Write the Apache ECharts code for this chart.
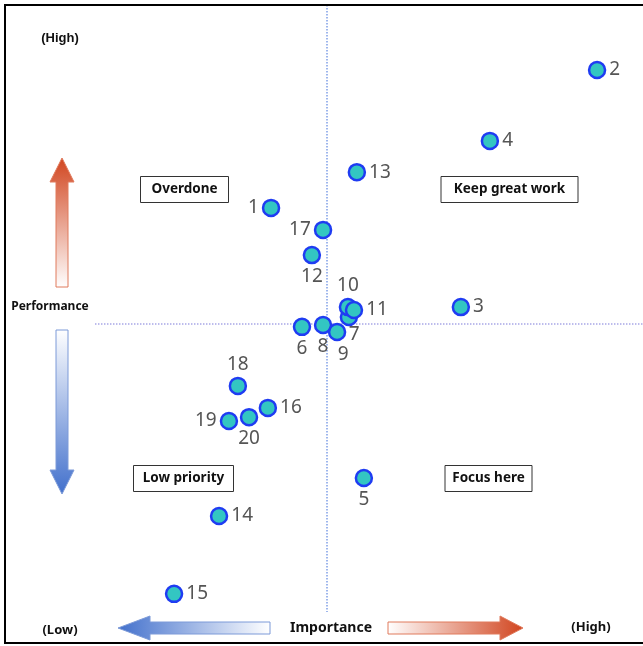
<!DOCTYPE html>
<html>
<head>
<meta charset="utf-8">
<script src="https://cdn.jsdelivr.net/npm/echarts@6/dist/echarts.min.js"></script>
<style>
html,body{margin:0;padding:0;background:#fff;}
#chart{width:643px;height:646px;}
</style>
</head>
<body>
<div id="chart"></div>
<script>
// Item numbers
var items = ['1','2','3','4','5','6','7','8','9','10','11','12','13','14','15','16','17','18','19','20'];
// Importance (x) values
var importance = [3.834,4.856,4.429,4.520,4.125,3.931,4.078,3.997,4.041,4.075,4.094,3.962,4.103,3.671,3.530,3.824,3.997,3.730,3.702,3.765];
// Performance (y) values
var performance = [4.364,4.796,4.053,4.574,3.517,3.991,4.022,3.997,3.975,4.053,4.044,4.216,4.476,3.398,3.154,3.737,4.295,3.806,3.696,3.708];
// Label placement per item
var labelPos = ['left','right','right','right','bottom','bottom','bottomRight','bottom','bottomShift','top','right','bottom','right','right','right','right','left','top','left','bottom'];
// Mean lines (quadrant dividers)
var meanImportance = 4.01;
var meanPerformance = 4.0;

var chart = echarts.init(document.getElementById('chart'));

var data = items.map(function(name, i){
  var pos = labelPos[i];
  var lbl = {position: pos, distance: 3};
  if (pos === 'bottomRight') {
    lbl = {position: [9, 17]};
  } else if (pos === 'bottomShift') {
    lbl = {position: 'bottom', distance: 4, offset: [6, 0]};
  }
  return {name: name, value: [importance[i], performance[i]], label: lbl};
});

function arrowGrad(x0,y0,x1,y1,c0,c1){
  return new echarts.graphic.LinearGradient(x0,y0,x1,y1,[{offset:0,color:c0},{offset:1,color:c1}]);
}
var RED = '#d1451f', BLUE = '#4270cc';

function box(cx, cy, w, h, text){
  return {
    type:'group', left: cx - w/2, top: cy - h/2, z: 50,
    children:[
      {type:'rect', shape:{x:0,y:0,width:w,height:h}, style:{fill:'#fff', stroke:'#333', lineWidth:1}},
      {type:'text', x:w/2, y:h/2, style:{text:text, fill:'#111', font:'bold 13.5px "Noto Sans"', textAlign:'center', textVerticalAlign:'middle'}}
    ]
  };
}

chart.setOption({
  animation:false,
  backgroundColor:'#fff',
  grid:{left:5, top:5, width:638, height:638},
  xAxis:{type:'value', min:3.0, max:5.0, show:false},
  yAxis:{type:'value', min:3.0, max:5.0, show:false},
  graphic:[
    // frame
    {type:'rect', z:100, shape:{x:5,y:5,width:642,height:638}, style:{fill:'none', stroke:'#000', lineWidth:2}},
    // up arrow (performance high)
    {type:'polygon', z:40, shape:{points:[[62,158],[74,182],[68,182],[68,287],[56,287],[56,182],[50,182]]},
      style:{fill:arrowGrad(0,0,0,1,RED,'#ffffff'), stroke:'#e07a5c', lineWidth:1}},
    // down arrow (performance low)
    {type:'polygon', z:40, shape:{points:[[56,330],[68,330],[68,470],[74,470],[62,494],[50,470],[56,470]]},
      style:{fill:arrowGrad(0,0,0,1,'#ffffff',BLUE), stroke:'#7c9ad8', lineWidth:1}},
    // left arrow (importance low)
    {type:'polygon', z:40, shape:{points:[[118,628],[150,616],[150,622],[270,622],[270,634],[150,634],[150,640]]},
      style:{fill:arrowGrad(0,0,1,0,BLUE,'#ffffff'), stroke:'#7c9ad8', lineWidth:1}},
    // right arrow (importance high)
    {type:'polygon', z:40, shape:{points:[[388,622],[500,622],[500,616],[523,628],[500,640],[500,634],[388,634]]},
      style:{fill:arrowGrad(0,0,1,0,'#ffffff',RED), stroke:'#e07a5c', lineWidth:1}},
    // axis texts
    {type:'text', z:60, x:60, y:38, style:{text:'(High)', fill:'#111', font:'bold 13px "Liberation Sans"', textAlign:'center', textVerticalAlign:'middle'}},
    {type:'text', z:60, x:60, y:630, style:{text:'(Low)', fill:'#111', font:'bold 13px "Noto Sans"', textAlign:'center', textVerticalAlign:'middle'}},
    {type:'text', z:60, x:591, y:627, style:{text:'(High)', fill:'#111', font:'bold 13px "Noto Sans"', textAlign:'center', textVerticalAlign:'middle'}},
    {type:'text', z:60, x:331, y:628, style:{text:'Importance', fill:'#111', font:'bold 14px "Noto Sans"', textAlign:'center', textVerticalAlign:'middle'}},
    {type:'text', z:60, x:50, y:307, style:{text:'Performance', fill:'#111', font:'bold 12px "Noto Sans"', textAlign:'center', textVerticalAlign:'middle'}},
    // quadrant boxes
    box(184, 189, 88, 26, 'Overdone'),
    box(509, 189, 137, 26, 'Keep great work'),
    box(183, 478, 100, 26, 'Low priority'),
    box(488, 478, 87, 26, 'Focus here')
  ],
  series:[{
    type:'scatter',
    data:data,
    symbol:'circle',
    symbolSize:16,
    z:10,
    itemStyle:{color:'#33c6c2', borderColor:'#1f3cf2', borderWidth:2.5, opacity:1},
    label:{show:true, formatter:'{b}', color:'#555', fontSize:19, fontFamily:'Noto Sans'},
    emphasis:{disabled:true},
    markLine:{
      silent:true, symbol:'none', animation:false,
      label:{show:false},
      lineStyle:{type:'dotted', width:1.5},
      data:[
        [{coord:[meanImportance, 5.0], lineStyle:{color:'#7f9fe6'}}, {coord:[meanImportance, 3.097]}],
        [{coord:[3.282, meanPerformance], lineStyle:{color:'#a8a6e6'}}, {coord:[5.0, meanPerformance]}]
      ]
    }
  }]
});
</script>
</body>
</html>
